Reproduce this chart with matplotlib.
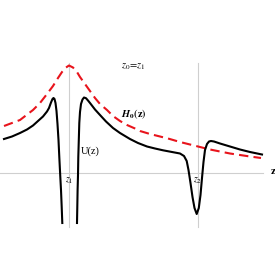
import matplotlib
matplotlib.use("Agg")
import matplotlib.pyplot as plt

plt.rcParams['mathtext.fontset'] = 'stix'
plt.rcParams['font.family'] = ['Liberation Serif', 'DejaVu Serif']

# U(z): left branch (left of z1)
u_left_z = [-6.5, -5.7, -4.9, -4.2, -3.6, -3.1, -2.6, -2.2, -2.0, -1.8, -1.65, -1.55, -1.45,
            -1.35, -1.25, -1.15, -1.05, -0.97, -0.88, -0.8, -0.73, -0.67]
u_left_v = [3.35, 3.6, 3.95, 4.3, 4.7, 5.15, 5.6, 6.1, 6.45, 7.0, 7.35, 7.45, 7.35,
            6.95, 6.15, 4.85, 3.25, 1.55, -0.25, -1.75, -3.45, -5.05]
# U(z): right branch (right of z1)
u_right_z = [0.8, 0.83, 0.86, 0.9, 0.93, 0.98, 1.03, 1.1, 1.2, 1.35, 1.5, 1.7, 1.9, 2.1,
             2.6, 3.1, 3.7, 4.4, 5.1, 6.1, 6.9, 7.8, 8.6, 9.4, 10.3, 11.1, 11.5, 11.77, 11.95,
             12.15, 12.35, 12.55, 12.77, 12.98, 13.15, 13.3, 13.45, 13.6, 13.8, 14.0, 14.2,
             14.5, 15.1, 16.1, 17.1, 18.1, 19.3]
u_right_v = [-5.05, -3.45, -1.75, -0.25, 1.55, 3.25, 4.95, 6.05, 6.85, 7.3, 7.5, 7.43, 7.2,
             6.95, 6.3, 5.75, 5.1, 4.45, 3.95, 3.35, 2.95, 2.6, 2.4, 2.22, 2.05, 1.9, 1.65,
             1.15, 0.25, -1.05, -2.45, -3.55, -4.15, -3.55, -2.25, -0.55, 1.05, 2.25, 2.85,
             3.1, 3.15, 3.1, 2.9, 2.6, 2.3, 2.05, 1.8]
# H0(z)
h0_z = [-6.5, -4.9, -3.6, -2.9, -2.2, -1.6, -1.1, -0.7, -0.3, 0.0, 0.4, 0.8, 1.1, 1.6, 2.1,
        2.6, 3.1, 3.8, 4.4, 5.1, 5.8, 6.6, 7.1, 8.1, 9.1, 9.9, 11.1, 12.1, 12.9, 14.1, 15.1,
        16.1, 17.1, 18.1, 19.2]
h0_v = [4.65, 5.25, 6.25, 6.95, 7.85, 8.65, 9.45, 10.05, 10.5, 10.7, 10.5, 10.05, 9.55, 8.85,
        8.15, 7.45, 6.85, 6.25, 5.65, 5.15, 4.75, 4.4, 4.15, 3.85, 3.6, 3.4, 3.05, 2.8, 2.6,
        2.3, 2.1, 1.9, 1.75, 1.6, 1.45]

z1 = 0.0
z2 = 12.87

fig = plt.figure(figsize=(2.75, 2.75), dpi=100)
ax = fig.add_axes([0, 0, 1, 1])
ax.set_xlim(-6.9, 20.6)
ax.set_ylim(-10.25, 17.25)
ax.axis('off')

grey = '#cfcfcf'
ax.plot([-6.9, 19.4], [0, 0], color=grey, lw=0.8, zorder=1)
ax.plot([z1, z1], [-5.45, 10.95], color=grey, lw=0.8, zorder=1)
ax.plot([z2, z2], [-5.45, 10.95], color=grey, lw=0.8, zorder=1)

ax.plot(h0_z, h0_v, color='#e8141c', lw=1.5, dashes=(4.5, 2.5), zorder=2)
ax.plot(u_left_z, u_left_v, color='black', lw=1.5, zorder=3)
ax.plot(u_right_z, u_right_v, color='black', lw=1.5, zorder=3)

ax.text(6.4, 10.55, r'$z_0\!=\!z_1$', fontsize=7.5, ha='center', va='center')
ax.text(6.5, 5.85, r'$\mathbfit{H}_{\mathbf{0}}\mathbf{(z)}$', fontsize=7.5, ha='center', va='center')
ax.text(2.15, 2.15, 'U(z)', fontsize=7.5, ha='center', va='center')
ax.text(z1, -0.8, r'$z_1$', fontsize=7, ha='center', va='center')
ax.text(z2, -0.8, r'$z_2$', fontsize=7, ha='center', va='center')
ax.text(20.4, 0.05, 'z', fontsize=8, fontweight='bold', ha='center', va='center')

fig.savefig('out.png', dpi=100)
